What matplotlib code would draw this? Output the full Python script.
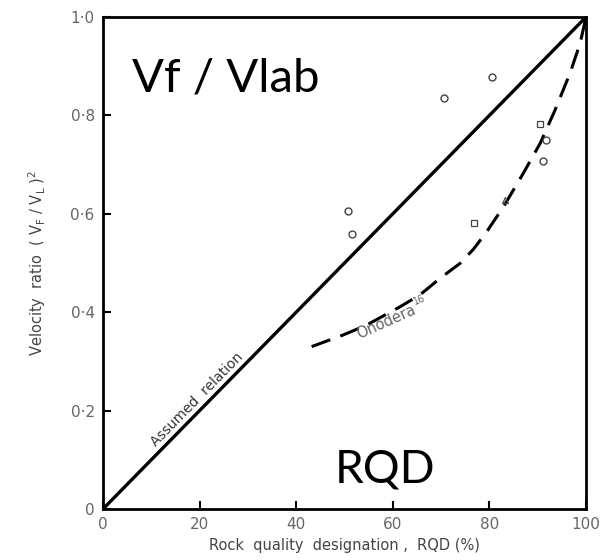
import numpy as np
import matplotlib
matplotlib.use("Agg")
import matplotlib.pyplot as plt

# field data
circ_rqd = [80.5, 70.6, 50.8, 51.6, 91.7, 91.2]
circ_vr = [0.879, 0.835, 0.606, 0.558, 0.750, 0.707]
sq_rqd = [90.5, 76.9]
sq_vr = [0.782, 0.581]
tri_rqd = [83.2]
tri_vr = [0.629]

# Onodera curve
ono_rqd = [43.2, 49.8, 54.6, 61.5, 65.6, 69.8, 73.9, 76.7, 79.4, 82.9,
           87.0, 90.5, 93.6, 96.7, 98.8, 100]
ono_vr = [0.330, 0.354, 0.374, 0.411, 0.435, 0.469, 0.499, 0.528, 0.563,
          0.614, 0.682, 0.743, 0.811, 0.886, 0.947, 1.0]

assumed_rqd = [0, 100]
assumed_vr = [0, 1.0]

xticks = [0, 20, 40, 60, 80, 100]
yticks = [0, 0.2, 0.4, 0.6, 0.8, 1.0]
ylabels = ["0", "0·2", "0·4", "0·6", "0·8", "1·0"]

fig = plt.figure(figsize=(6.08, 5.60), dpi=100)
ax = fig.add_axes([0.1694, 0.0911, 0.7944, 0.8785])

ax.plot(assumed_rqd, assumed_vr, color="black", lw=2.4, solid_capstyle="butt")
ax.plot(ono_rqd, ono_vr, color="black", lw=2.2, dashes=(6.5, 3.5))

ax.plot(circ_rqd, circ_vr, "o", ms=5, mfc="none", mec="#444444", mew=1.0)
ax.plot(sq_rqd, sq_vr, "s", ms=5, mfc="none", mec="#444444", mew=0.9)
ax.plot(tri_rqd, tri_vr, "^", ms=5, mfc="none", mec="#444444", mew=0.9)

ax.set_xlim(0, 100)
ax.set_ylim(0, 1.0)
ax.set_xticks(xticks)
ax.set_xticklabels([str(t) for t in xticks])
ax.set_yticks(yticks)
ax.set_yticklabels(ylabels)
ax.tick_params(direction="in", length=6, width=1.5, labelsize=11,
               labelcolor="#666666", pad=6)
for s in ax.spines.values():
    s.set_linewidth(2)

ax.set_xlabel("Rock  quality  designation ,  RQD (%)", fontsize=10.5,
              color="#444444", labelpad=4)
ax.set_ylabel(r"Velocity  ratio  ( V$_\mathrm{F}$ / V$_\mathrm{L}$ )$^2$",
              fontsize=10.5, color="#444444", labelpad=16)

ax.text(19.4, 0.222, "Assumed  relation", rotation=45.5, fontsize=10,
        color="#333333", ha="center", va="center", rotation_mode="anchor")
ax.text(58.7, 0.381, "Onodera", rotation=24, fontsize=10.5,
        color="#666666", ha="center", va="center", rotation_mode="anchor")
ax.text(65.5, 0.425, "16", rotation=24, fontsize=7, color="#666666",
        ha="center", va="center")

# overlay labels
ax.text(6, 0.875, "Vf / Vlab", fontsize=34, color="black", va="center",
        family="Lato")
ax.text(48.0, 0.08, "RQD", fontsize=33, color="black", va="center",
        family="Lato")

fig.savefig("out.png", dpi=100)
